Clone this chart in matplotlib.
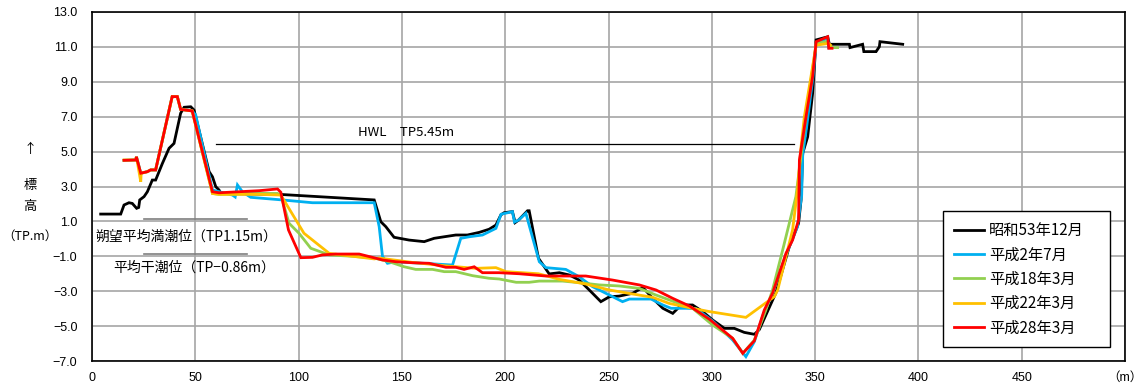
import matplotlib
matplotlib.use("Agg")
import matplotlib.pyplot as plt
from matplotlib.ticker import FixedLocator, FuncFormatter

plt.rcParams['font.family'] = ['Noto Sans CJK JP', 'DejaVu Sans']

# ---- data ----
s53_x = [4.2, 13.9, 15.5, 17.9, 19.5, 21.6, 22.6, 23.1, 25.2, 26.8, 29.2, 30.8, 34.1, 37.3, 39.7, 42.9, 44.6, 47.8, 49.4,
         56.7, 58.3, 59.9, 61.5, 62.3, 90.6, 136.6, 139.8, 142.2, 146.2, 153.5, 160.8, 165.6, 170.5, 176.1, 181.7,
         187.4, 192.2, 195.5, 197.9, 199.5, 203.5, 204.8, 206.5, 210.8, 211.6, 216.1, 221.3, 226.2, 231.0, 235.8,
         240.7, 246.3, 250.4, 255.2, 261.7, 266.6, 271.4, 276.3, 281.1, 285.2, 290.7, 295.6, 300.4, 306.1, 310.9,
         315.7, 320.6, 323.0, 331.0, 337.5, 342.0, 343.2, 344.0, 346.4, 348.8, 350.5, 356.1, 356.9, 366.6, 366.9,
         373.0, 373.6, 379.5, 381.1, 381.4, 392.4]
s53_y = [1.42, 1.42, 1.94, 2.07, 2.03, 1.75, 1.8, 2.23, 2.42, 2.7, 3.37, 3.37, 4.33, 5.19, 5.47, 7.2, 7.54, 7.57, 7.38,
         3.85, 3.56, 2.99, 2.8, 2.6, 2.55, 2.23, 0.98, 0.70, 0.09, -0.07, -0.16, 0.03, 0.12, 0.22, 0.22,
         0.37, 0.55, 0.79, 1.37, 1.50, 1.56, 0.93, 1.08, 1.61, 1.61, -1.11, -2.01, -1.94, -2.07, -2.36,
         -2.93, -3.6, -3.32, -3.28, -3.12, -2.78, -3.41, -3.98, -4.27, -3.79, -3.79, -4.17, -4.65, -5.13, -5.13,
         -5.36, -5.47, -5.2, -3.1, -0.45, 0.89, 2.23, 4.9, 5.85, 8.34, 11.4, 11.58, 11.15, 11.15, 10.96,
         11.15, 10.73, 10.73, 11.01, 11.3, 11.15]

h02_x = [15.5, 21.2, 21.5, 23.6, 26.8, 28.4, 30.8, 38.8, 41.3, 42.9, 48.5, 50.2, 58.3, 68.0, 69.3, 70.4, 72.8, 76.8,
         92.1, 106.7, 136.6, 139.0, 140.6, 143.0, 147.0, 174.5, 178.5, 182.6, 189.0, 195.5, 198.0, 203.5, 204.5,
         206.5, 210.0, 216.5, 219.7, 229.3, 235.8, 242.3, 250.4, 256.8, 260.1, 270.6, 276.3, 280.3, 287.5, 292.4,
         300.4, 310.1, 316.5, 320.6, 325.0, 329.4, 336.0, 341.5, 343.5, 344.0, 346.0, 349.0, 350.5, 356.1, 356.6]
h02_y = [4.5, 4.52, 4.7, 3.76, 3.85, 3.95, 3.95, 8.15, 8.15, 7.42, 7.33, 7.1, 2.8, 2.51, 2.4, 3.09, 2.7, 2.38,
         2.23, 2.07, 2.07, 0.7, -1.0, -1.4, -1.31, -1.5, 0.03, 0.12, 0.22, 0.6, 1.41, 1.56, 0.96,
         1.08, 1.46, -1.31, -1.65, -1.75, -2.17, -2.74, -3.22, -3.6, -3.45, -3.45, -3.79, -3.98, -3.98, -4.0,
         -4.7, -5.8, -6.75, -5.89, -4.3, -3.12, -0.9, 0.7, 2.5, 4.8, 6.5, 9.3, 11.2, 11.5, 10.95]

h18_x = [15.5, 21.2, 21.5, 23.6, 26.8, 28.4, 30.8, 38.8, 41.3, 42.9, 48.5, 58.3, 61.5, 80.9, 89.8, 91.4, 95.4, 100.2,
         105.9, 114.8, 126.1, 136.6, 143.8, 151.1, 156.7, 164.8, 170.5, 176.1, 184.2, 192.2, 197.1, 205.3, 211.6,
         216.5, 227.7, 235.8, 245.5, 255.2, 264.9, 273.0, 279.4, 290.7, 300.4, 310.1, 315.0, 320.6, 326.2, 329.4,
         334.3, 340.7, 345.6, 350.5, 355.3, 357.7, 360.9]
h18_y = [4.5, 4.52, 4.7, 3.76, 3.85, 3.95, 3.95, 8.15, 8.15, 7.42, 7.33, 2.6, 2.55, 2.6, 2.6, 2.5, 0.89, 0.32,
         -0.54, -0.92, -1.0, -1.1, -1.31, -1.6, -1.75, -1.75, -1.88, -1.88, -2.11, -2.26, -2.3, -2.49, -2.49,
         -2.42, -2.42, -2.51, -2.64, -2.7, -2.84, -3.22, -3.5, -3.98, -4.94, -5.7, -6.56, -5.8, -4.08, -2.93,
         -0.64, 2.42, 7.0, 11.2, 11.3, 10.96, 10.96]

h22_x = [15.5, 21.2, 21.5, 23.6, 23.8, 26.8, 28.4, 30.8, 38.8, 41.3, 42.9, 48.5, 58.3, 61.5, 80.9, 91.4, 102.6,
         114.8, 136.6, 139.0, 155.1, 171.3, 185.7, 195.5, 200.4, 216.1, 226.2, 239.0, 250.4, 261.7, 271.4, 279.4,
         290.7, 298.9, 316.5, 330.3, 331.9, 339.1, 341.5, 343.2, 344.8, 350.5, 356.6, 357.5]
h22_y = [4.52, 4.52, 4.7, 3.27, 3.76, 3.85, 3.95, 3.95, 8.15, 8.15, 7.42, 7.33, 2.6, 2.55, 2.55, 2.51, 0.32,
         -0.83, -1.15, -1.1, -1.35, -1.55, -1.69, -1.65, -1.88, -2.0, -2.32, -2.59, -2.93, -3.16, -3.35, -3.7,
         -3.98, -4.17, -4.5, -3.31, -2.93, 0.51, 2.8, 5.28, 7.0, 11.1, 11.2, 11.1]

h28_x = [15.5, 21.2, 21.5, 23.6, 26.8, 28.4, 30.8, 38.8, 41.3, 42.9, 48.5, 58.3, 61.5, 80.9, 89.8, 91.4, 95.1,
         101.1, 106.7, 111.5, 118.0, 129.3, 135.7, 140.6, 147.0, 155.1, 163.2, 171.3, 176.1, 180.1, 185.0, 189.0,
         197.1, 206.8, 219.7, 229.3, 239.0, 251.9, 264.9, 273.0, 281.1, 289.2, 298.9, 310.1, 315.0, 320.6, 325.4,
         329.4, 335.9, 339.1, 342.0, 342.4, 345.6, 348.8, 350.5, 356.1, 356.6, 358.2]
h28_y = [4.5, 4.52, 4.7, 3.76, 3.85, 3.95, 3.95, 8.15, 8.15, 7.42, 7.33, 2.7, 2.64, 2.76, 2.86, 2.67, 0.51,
         -1.08, -1.06, -0.92, -0.87, -0.87, -1.06, -1.21, -1.31, -1.37, -1.4, -1.63, -1.63, -1.75, -1.6, -1.94,
         -1.94, -2.0, -2.13, -2.13, -2.13, -2.36, -2.64, -2.93, -3.41, -3.85, -4.61, -5.7, -6.56, -5.84, -4.08,
         -3.12, -0.83, -0.07, 1.08, 4.52, 7.0, 9.3, 11.3, 11.58, 10.92, 10.92]

series_labels = ['昭和53年12月', '平成2年7月', '平成18年3月', '平成22年3月', '平成28年3月']
series_colors = ['#000000', '#00B0F0', '#92D050', '#FFC000', '#FF0000']

hwl_level = 5.45
hwl_range = [60, 340]
tide_high = 1.15
tide_low = -0.86
tide_range = [25, 75]

x_ticks = [0, 50, 100, 150, 200, 250, 300, 350, 400, 450, 500]
x_ticklabels = ['0', '50', '100', '150', '200', '250', '300', '350', '400', '450', '（m）']
y_ticks = [-7, -5, -3, -1, 1, 3, 5, 7, 9, 11, 13]

# ---- figure ----
fig = plt.figure(figsize=(11.46, 3.92), dpi=100)
ax = fig.add_axes([92 / 1146, 1 - 361 / 392, (1125 - 92) / 1146, (361 - 12) / 392])

ax.set_xlim(0, 500)
ax.set_ylim(-7, 13)
ax.xaxis.set_major_locator(FixedLocator(x_ticks))
ax.set_xticklabels(x_ticklabels)
ax.yaxis.set_major_locator(FixedLocator(y_ticks))
ax.yaxis.set_major_formatter(FuncFormatter(lambda v, p: f"{v:.1f}".replace('-', '\u2212')))
ax.grid(True, color='#A6A6A6', lw=1.2)
ax.set_axisbelow(True)
ax.tick_params(axis='y', length=0, labelsize=9, pad=10.5)
ax.tick_params(axis='x', length=0, labelsize=9, pad=8)
for lbl in ax.get_xticklabels() + ax.get_yticklabels():
    lbl.set_fontfamily(['Liberation Sans', 'Noto Sans CJK JP'])
for sp in ax.spines.values():
    sp.set_color('#000000')
    sp.set_linewidth(1.2)

xs = [s53_x, h02_x, h18_x, h22_x, h28_x]
ys = [s53_y, h02_y, h18_y, h22_y, h28_y]
for x, y, lab, c in zip(xs, ys, series_labels, series_colors):
    ax.plot(x, y, color=c, lw=2, label=lab, solid_joinstyle='miter')

# reference lines
ax.plot(hwl_range, [hwl_level, hwl_level], color='black', lw=0.9)
ax.text(152, hwl_level + 0.25, 'HWL\u3000TP5.45m', ha='center', va='bottom', fontsize=9.5)
ax.plot(tide_range, [tide_high, tide_high], color='#7F7F7F', lw=1.2)
ax.plot(tide_range, [tide_low, tide_low], color='#7F7F7F', lw=1.2)
ax.text(45.8, 0.15, '朔望平均満潮位（TP1.15m）', ha='center', va='center', fontsize=10)
ax.text(49.7, -1.67, '平均干潮位（TP\u22120.86m）', ha='center', va='center', fontsize=10)

# y-axis label
fig.text(30 / 1146, 1 - 150 / 392, '↑', ha='center', va='center', fontsize=9.5)
fig.text(30 / 1146, 1 - 186 / 392, '標', ha='center', va='center', fontsize=9.5)
fig.text(30 / 1146, 1 - 207 / 392, '高', ha='center', va='center', fontsize=9.5)
fig.text(30 / 1146, 1 - 236 / 392, '（TP.m）', ha='center', va='center', fontsize=9)

leg = ax.legend(loc='lower left', bbox_to_anchor=((943 - 92) / 1033, (361 - 347) / 349, (1110 - 943) / 1033, 0.3),
                mode='expand', borderaxespad=0, fontsize=11, frameon=True,
                fancybox=False, framealpha=1, edgecolor='black', handlelength=2.0, labelspacing=0.48,
                borderpad=0.7, handletextpad=0.3)
leg.get_frame().set_linewidth(1.0)

fig.savefig('out.png', dpi=100)
